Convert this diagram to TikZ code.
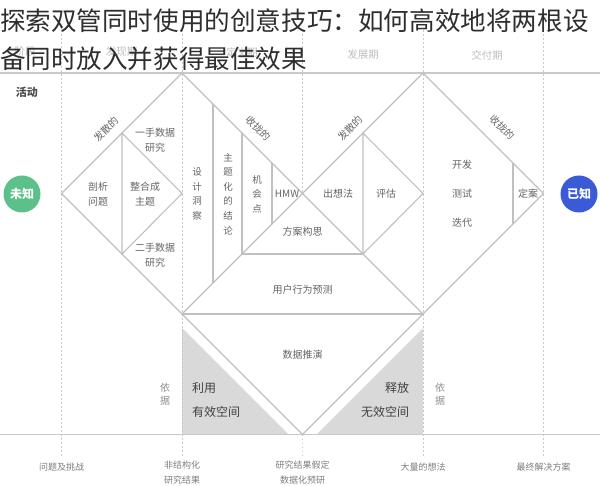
\documentclass[tikz,border=0pt]{standalone}
\usepackage{fontspec}
\setmainfont{Noto Sans CJK SC}
\definecolor{ln}{RGB}{192,192,192}
\definecolor{dotc}{RGB}{200,200,200}
\definecolor{txt}{RGB}{100,100,100}
\definecolor{btc}{RGB}{125,125,125}
\definecolor{hdc}{RGB}{190,190,190}
\definecolor{fillg}{RGB}{217,217,217}
\definecolor{grn}{RGB}{92,192,138}
\definecolor{blu}{RGB}{58,90,216}
\begin{document}
\begin{tikzpicture}[x=1pt,y=-1pt,
  every node/.style={inner sep=0pt,outer sep=0pt},
  edge/.style={draw=ln,line width=1.1pt,line join=miter},
  baseline/.style={draw=ln!85,line width=1.6pt},
  guide/.style={draw=dotc,line width=0.9pt,dash pattern=on 1.6pt off 2.4pt},
  lbl/.style={text=txt,font=\fontsize{10}{15}\selectfont,align=center},
  vlbl/.style={text=txt,font=\fontsize{9.5}{14.6}\selectfont,align=center},
  slant/.style={text=txt,font=\fontsize{10}{12}\selectfont},
  btm/.style={text=btc,font=\fontsize{9}{15}\selectfont,align=center},
  hdr/.style={text=hdc,font=\fontsize{10.5}{12}\selectfont},
  space/.style={text=black!75,font=\fontsize{12}{24}\selectfont,align=left},
  yiju/.style={text=black!45,font=\fontsize{10}{13.5}\selectfont,align=center},
  circ/.style={circle,minimum size=37pt,text=white,font=\fontsize{12}{12}\selectfont\bfseries},
  ttl/.style={text=black!82,font=\fontsize{25.6}{30}\selectfont,anchor=west}]
\useasboundingbox (0,0) rectangle (600,486);

% key points
\coordinate (L1) at (61.5,193.5);
\coordinate (T1) at (182,73);
\coordinate (C)  at (302.5,193.5);
\coordinate (B1) at (182,314);
\coordinate (T2) at (423,73);
\coordinate (R2) at (543.5,193.5);
\coordinate (B2) at (423,314);
\coordinate (V)  at (302.5,434.5);

% gray triangles
\fill[fillg] (182,328) -- (182,434.5) -- (288.5,434.5) -- cycle;
\fill[fillg] (423,328) -- (423,434.5) -- (316.5,434.5) -- cycle;

% guides
\foreach \gx in {61.5,182,423,543.5} {
  \draw[guide] (\gx,30) -- (\gx,457);
}
\draw[guide] (302.5,30) -- (302.5,193.5);
\draw[guide] (302.5,434.5) -- (302.5,457);

% horizontal rules
\coordinate (hl) at (0,73);
\coordinate (hr) at (600,73);
\coordinate (bl) at (0,434.5);
\coordinate (br) at (600,434.5);
\draw[baseline] (hl) -- (hr);
\draw[baseline] (bl) -- (br);

% outer diamonds and V
\draw[edge] (L1) -- (T1) -- (B2) -- (R2) -- (T2) -- (B1) -- cycle;
\draw[edge] (B1) -- (V) -- (B2);
\draw[edge] (B1) -- (B2);

% first diamond inner
\coordinate (a1) at (122,133);
\coordinate (a2) at (182,193.5);
\coordinate (a3) at (122,254);
\draw[edge] (a1) -- (a2) -- (a3) -- cycle;
\coordinate (c1t) at (213,104); \coordinate (c1b) at (213,283);
\coordinate (c2t) at (242,133); \coordinate (c2b) at (242,254);
\coordinate (c3t) at (272,163); \coordinate (c3b) at (272,224);
\draw[edge] (c1t) -- (c1b);
\draw[edge] (c2t) -- (c2b);
\draw[edge] (c3t) -- (c3b);

% second diamond inner
\coordinate (b1) at (363,133);
\coordinate (b2) at (423,193.5);
\coordinate (b3) at (363,254);
\draw[edge] (b1) -- (b2) -- (b3) -- cycle;
\draw[edge] (c2b) -- (b3);
\coordinate (d1t) at (513,163); \coordinate (d1b) at (513,224);
\draw[edge] (d1t) -- (d1b);

% headers
\node[hdr] (h0) at (25,52) {阶段};
\node[hdr] (h1) at (121.5,52) {发现期};
\node[hdr] (h2) at (242,52) {定义期};
\node[hdr] (h3) at (363,55) {发展期};
\node[hdr] (h4) at (487,55) {交付期};
\node[text=black!70,font=\fontsize{11}{12}\selectfont\bfseries] (act) at (27,92) {活动};

% circles
\node[circ,fill=grn] (unk) at (22,194) {未知};
\node[circ,fill=blu] (kn) at (579,194) {已知};

% slanted labels
\node[slant,rotate=45] (s1) at (106,129) {发散的};
\node[slant,rotate=-45] (s2) at (258,128) {收拢的};
\node[slant,rotate=45] (s3) at (350,128) {发散的};
\node[slant,rotate=-45] (s4) at (502,127) {收拢的};

% first diamond labels
\node[lbl] (n1) at (98,194) {剖析\\问题};
\node[lbl] (n2) at (145,194) {整合成\\主题};
\node[lbl] (n3) at (155,140) {一手数据\\研究};
\node[lbl] (n4) at (155,255) {二手数据\\研究};
\node[vlbl] (n5) at (197,194) {设\\计\\洞\\察};
\node[vlbl] (n6) at (228,194) {主\\题\\化\\的\\结\\论};
\node[vlbl] (n7) at (257,194) {机\\会\\点};
\node[lbl] (n8) at (287,193.5) {HMW};

% second diamond labels
\node[lbl] (m1) at (338,193.5) {出想法};
\node[lbl] (m2) at (386,193.5) {评估};
\node[lbl] (m3) at (302.5,232) {方案构思};
\node[lbl] (m4) at (302.5,290) {用户行为预测};
\node[lbl] (m5) at (302.5,355) {数据推演};
\node[lbl] (m6) at (462,165) {开发};
\node[lbl] (m7) at (462,194) {测试};
\node[lbl] (m8) at (462,223) {迭代};
\node[lbl] (m9) at (528,194) {定案};

% bottom area
\node[space,anchor=west] (u1) at (192,388) {利用};
\node[space,anchor=west] (u2) at (192,412) {有效空间};
\node[space,anchor=east] (u3) at (409,388) {释放};
\node[space,anchor=east] (u4) at (409,412) {无效空间};
\node[yiju] (y1) at (165,394) {依\\据};
\node[yiju] (y2) at (440,394) {依\\据};

\node[btm] (q1) at (61.5,467) {问题及挑战};
\node[btm] (q2) at (182,472.5) {非结构化\\研究结果};
\node[btm] (q3) at (302.5,472.5) {研究结果假定\\数据化预研};
\node[btm] (q4) at (423,467) {大量的想法};
\node[btm] (q5) at (543.5,467) {最终解决方案};

% title
\node[ttl] (t1) at (0,21) {探索双管同时使用的创意技巧：如何高效地将两根设};
\node[ttl] (t2) at (0,59) {备同时放入并获得最佳效果};
\end{tikzpicture}
\end{document}
